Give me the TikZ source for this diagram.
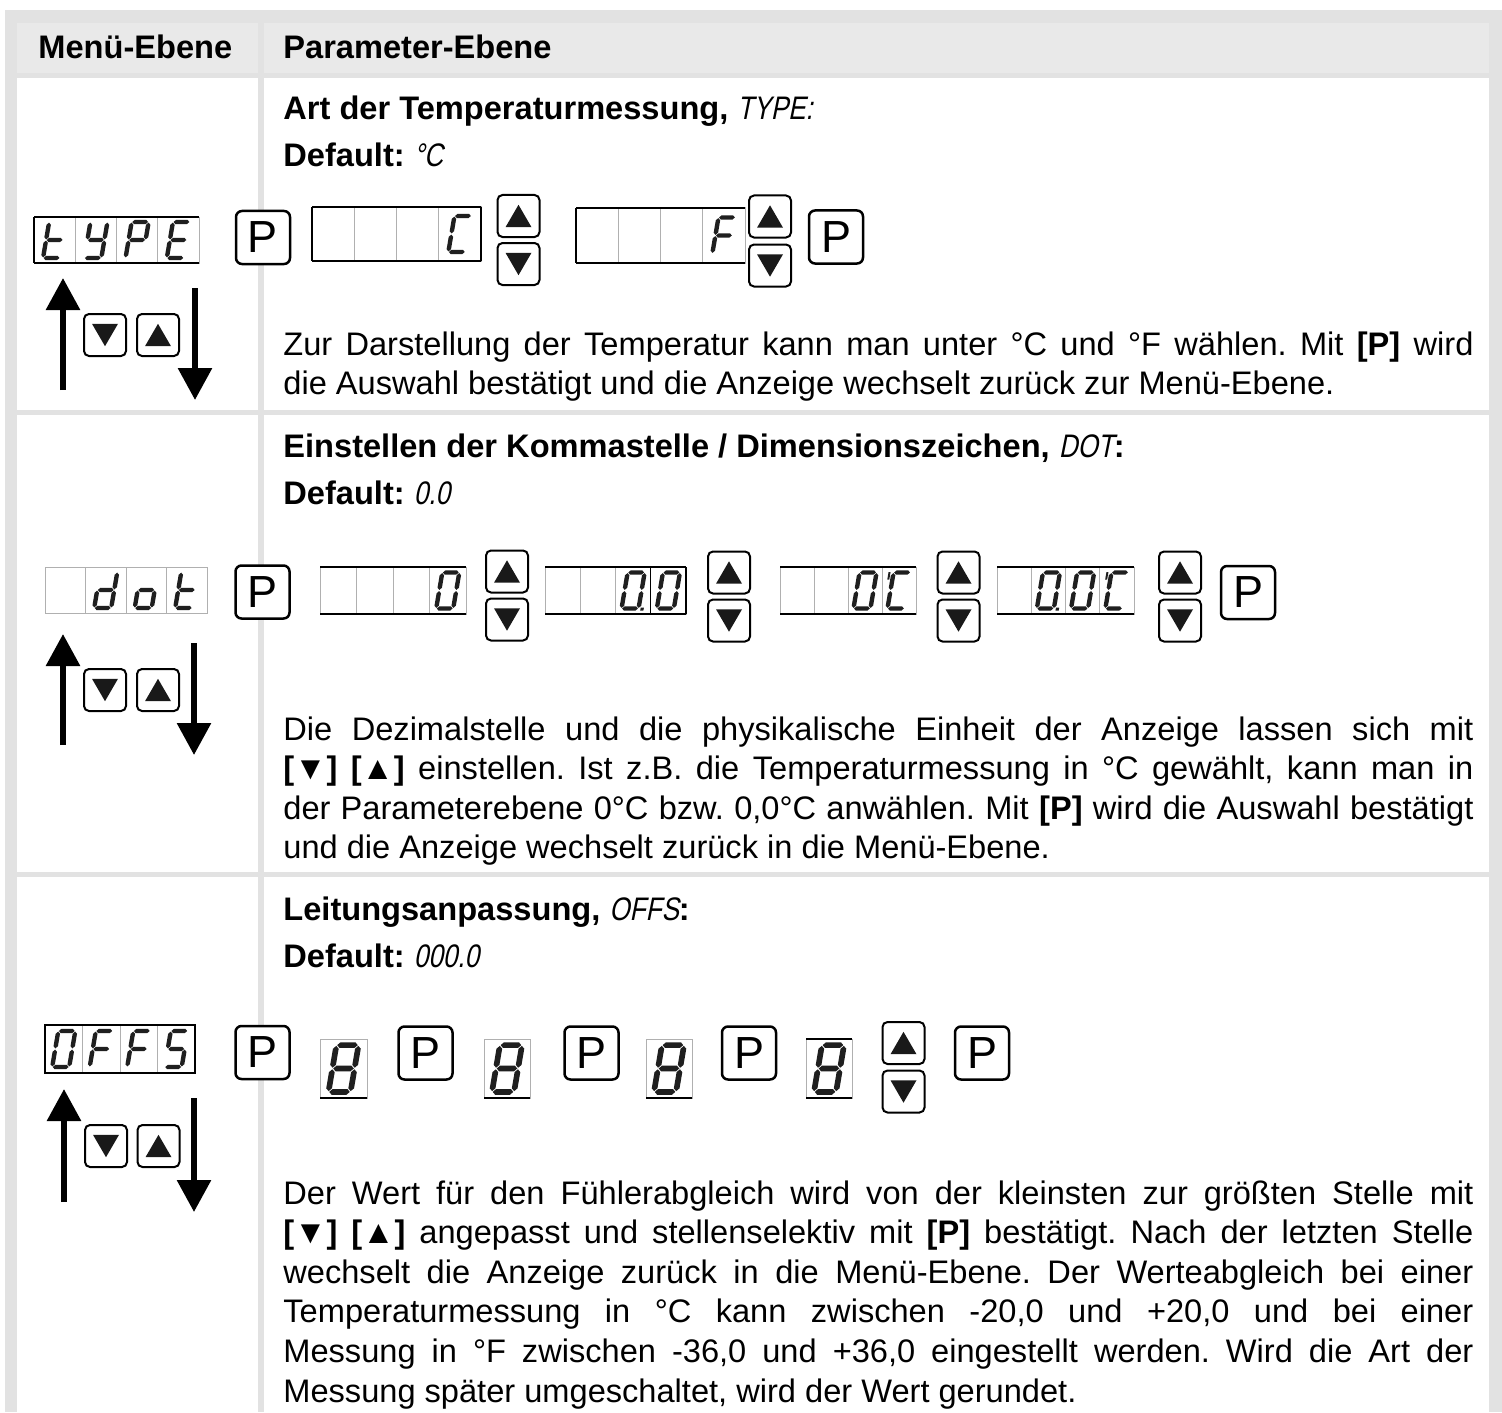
\documentclass[tikz,border=0pt]{standalone}
\usepackage{fontspec}
\setmainfont{Liberation Sans}
\newfontfamily\segfont[FakeSlant=0.2,FakeStretch=0.8]{Liberation Sans}
\usetikzlibrary{calc}
\usetikzlibrary{arrows.meta}
\definecolor{tabrule}{HTML}{E2E2E2}
\definecolor{tabhead}{HTML}{E9E9E9}
\definecolor{ledgray}{HTML}{B0B0B0}
\tikzset{
  pbtn/.style= {draw, fill=white, rounded corners=3pt, line width=1.25pt, minimum width=27pt, minimum height=26.5pt, inner sep=0, font=\fontsize{22.5}{22.5}\selectfont},
  abtn/.style= {draw, fill=white, rounded corners=2.5pt, line width=1pt, minimum size=21pt, inner sep=0},
  upbtn/.style= {abtn, path picture={\fill[black!90, sharp corners] ([yshift=5.6pt]path picture bounding box.center) -- ++(6.5pt,-11.2pt) -- ++(-13pt,0pt) -- cycle;}},
  dnbtn/.style= {abtn, path picture={\fill[black!90, sharp corners] ([yshift=-5.6pt]path picture bounding box.center) -- ++(6.5pt,11.2pt) -- ++(-13pt,0pt) -- cycle;}},
  ledseg/.style= {fill=black!88},
  ledline/.style= {ledgray, line width=.5pt},
  ledrim/.style= {black, line width=.7pt},
  menuarrow/.style= {line width=3pt, -{Triangle[width=16.5pt,length=16pt]}},
  head/.style= {anchor=base west, inner sep=0, font=\fontsize{16.3}{19.8}\selectfont\bfseries},
  para/.style= {anchor=base west, inner sep=0, text width=595pt, align=justify, font=\fontsize{16.3}{19.8}\selectfont},
}
% seven segment parts, local units with y up
\newcommand\hseg[3]{\fill[ledseg] ({#1+0.6},#3) -- ++(2.2,2.2) -- ({#2-2.8},{#3+2.2}) -- ({#2-0.6},#3) -- ({#2-2.8},{#3-2.2}) -- ({#1+2.8},{#3-2.2}) -- cycle;}
\newcommand\vseg[3]{\fill[ledseg] (#1,{#2+0.6}) -- ({#1+2.2},{#2+2.8}) -- ({#1+2.2},{#3-2.8}) -- (#1,{#3-0.6}) -- ({#1-2.2},{#3-2.8}) -- ({#1-2.2},{#2+2.8}) -- cycle;}
\newcommand\leda{\hseg{-8.5}{8.5}{18}}
\newcommand\ledb{\vseg{8.5}{0}{18}}
\newcommand\ledc{\vseg{8.5}{-18}{0}}
\newcommand\ledd{\hseg{-8.5}{8.5}{-18}}
\newcommand\lede{\vseg{-8.5}{-18}{0}}
\newcommand\ledf{\vseg{-8.5}{0}{18}}
\newcommand\ledg{\hseg{-8.5}{8.5}{0}}
\newcommand\ledp{\fill[ledseg] (10.5,-20.2) rectangle (13.7,-17);}
\newcommand\ledq{\fill[ledseg] (-13.6,11) rectangle (-11.6,18.5);}
\newcommand\ledchar[4][0.5pt]{%
  \begin{scope}[shift={(#2,#3)}, x=#1, y=#1, xslant=0.17]
    \foreach \s in {#4} {\csname led\s\endcsname}
  \end{scope}}
\newcommand\ledbox[5][ledrim]{%
  \draw[ledline] (#2,#3) rectangle (#4,#5);
  \foreach \k in {1,2,3} \draw[ledline] ({#2+\k*(#4-#2)/4},#3) -- ({#2+\k*(#4-#2)/4},#5);
  \draw[#1] (#2,#3) -- (#4,#3) (#2,#5) -- (#4,#5);}
\setlength\parindent{0pt}
\tolerance=9999
\hyphenpenalty=10000
\exhyphenpenalty=10000
\frenchspacing

\begin{document}
\begin{tikzpicture}[x=0.5pt, y=-0.5pt]
  \useasboundingbox (0,0) rectangle (1502,1412);

  % table
  \fill[tabrule] (5,10) rectangle (1502,1412);
  \fill[tabhead] (17,23) rectangle (258,73);
  \fill[tabhead] (264,23) rectangle (1489,73);
  \fill[white] (17,78) rectangle (258,410);
  \fill[white] (264,78) rectangle (1489,410);
  \fill[white] (17,415) rectangle (258,872);
  \fill[white] (264,415) rectangle (1489,872);
  \fill[white] (17,877) rectangle (258,1412);
  \fill[white] (264,877) rectangle (1489,1412);

  \node [head] (hmenu) at (38,59) {Menü-Ebene};
  \node [head] (hpar) at (283,59) {Parameter-Ebene};

  % TYPE
  \node [head] (type) at (283,120) {Art der Temperaturmessung, {\segfont\mdseries TYPE:}};
  \node [head] (typedef) at (283,167) {Default: {\segfont\mdseries °C}};

  \ledbox{34}{217}{199}{263}
  \draw[ledrim] (34,217) -- (34,263);
  \ledchar{54.6}{240}{d,e,f,g}
  \ledchar{95.9}{240}{b,c,d,f,g}
  \ledchar{137.1}{240}{a,b,e,f,g}
  \ledchar{178.4}{240}{a,d,e,f,g}

  \ledbox{312}{207}{481}{261}
  \draw[ledrim] (312,207) -- (312,261) (481,207) -- (481,261);
  \ledchar{459.9}{234}{a,d,e,f}
  \ledbox{576}{208}{745}{263}
  \draw[ledrim] (576,208) -- (576,263);
  \ledchar{723.9}{235.5}{a,e,f,g}

  \node [pbtn] (p11) at (263,237.5) {P};
  \node [upbtn] (u11) at (518.5,216) {};
  \node [dnbtn] (d11) at (518.5,264) {};
  \node [upbtn] (u12) at (770,216.5) {};
  \node [dnbtn] (d12) at (770,265.5) {};
  \node [pbtn] (p12) at (836,237) {P};

  \coordinate (up1a) at (63,390);
  \coordinate (up1b) at (63,278);
  \coordinate (dn1a) at (195,288);
  \coordinate (dn1b) at (195,400);
  \draw [menuarrow] (up1a) -- (up1b);
  \draw [menuarrow] (dn1a) -- (dn1b);
  \node [dnbtn] (md1) at (105,335) {};
  \node [upbtn] (mu1) at (158,335) {};

  \node [para] (txt1) at (283,355) {Zur Darstellung der Temperatur kann man unter °C und °F wählen. Mit \textbf{[P]} wird\linebreak die Auswahl bestätigt und die Anzeige wechselt zurück zur Menü-Ebene.};

  % DOT
  \node [head] (dot) at (283,457) {Einstellen der Kommastelle / Dimensionszeichen, {\segfont\mdseries DOT}:};
  \node [head] (dotdef) at (283,504) {Default: {\segfont\mdseries 0.0}};

  \ledbox[ledline]{45}{567}{207}{613}
  \ledchar{105.75}{590}{b,c,d,e,g}
  \ledchar{146.25}{590}{c,d,e,g}
  \ledchar{186.75}{590}{d,e,f,g}

  \ledbox{320}{567}{466}{614}
  \ledchar{447.75}{590.5}{a,b,c,d,e,f}
  \ledbox{545}{567}{686}{614}
  \draw[ledrim] (650.25,567) -- (650.25,614) (686,567) -- (686,614);
  \ledchar{633.1}{590.5}{a,b,c,d,e,f,p}
  \ledchar{668.4}{590.5}{a,b,c,d,e,f}
  \ledbox{780}{567}{916}{614}
  \ledchar{865}{590.5}{a,b,c,d,e,f}
  \ledchar{899}{590.5}{a,d,e,f,q}
  \ledbox{997}{567}{1134}{614}
  \ledchar{1048.4}{590.5}{a,b,c,d,e,f,p}
  \ledchar{1082.6}{590.5}{a,b,c,d,e,f}
  \ledchar{1116.9}{590.5}{a,d,e,f,q}

  \node [pbtn] (p21) at (262.5,592) {P};
  \node [upbtn] (u21) at (507,571.5) {};
  \node [dnbtn] (d21) at (507,619.5) {};
  \node [upbtn] (u22) at (729,572.5) {};
  \node [dnbtn] (d22) at (729,620.5) {};
  \node [upbtn] (u23) at (958.5,572.5) {};
  \node [dnbtn] (d23) at (958.5,620.5) {};
  \node [upbtn] (u24) at (1180,572.5) {};
  \node [dnbtn] (d24) at (1180,620.5) {};
  \node [pbtn] (p22) at (1248,592.5) {P};

  \coordinate (up2a) at (63,745);
  \coordinate (up2b) at (63,634);
  \coordinate (dn2a) at (194,643);
  \coordinate (dn2b) at (194,755);
  \draw [menuarrow] (up2a) -- (up2b);
  \draw [menuarrow] (dn2a) -- (dn2b);
  \node [dnbtn] (md2) at (105,690) {};
  \node [upbtn] (mu2) at (158,690) {};

  \node [para] (txt2) at (283,740) {Die Dezimalstelle und die physikalische Einheit der Anzeige lassen sich mit\linebreak \textbf{[▼] [▲]} einstellen. Ist z.B. die Temperaturmessung in °C gewählt, kann man in\linebreak der Parameterebene 0°C bzw. 0,0°C anwählen. Mit \textbf{[P]} wird die Auswahl bestätigt\linebreak und die Anzeige wechselt zurück in die Menü-Ebene.};

  % OFFS
  \node [head] (offs) at (283,920) {Leitungsanpassung, {\segfont\mdseries OFFS}:};
  \node [head] (offsdef) at (283,967) {Default: {\segfont\mdseries 000.0}};

  \ledbox{45}{1025}{195}{1073}
  \draw[ledrim] (45,1025) rectangle (195,1073);
  \ledchar{63.75}{1049}{a,b,c,d,e,f}
  \ledchar{101.25}{1049}{a,e,f,g}
  \ledchar{138.75}{1049}{a,e,f,g}
  \ledchar{176.25}{1049}{a,c,d,f,g}

  \draw[ledline] (320,1039) rectangle (367,1098);
  \draw[ledrim] (320,1098) -- (367,1098);
  \ledchar[0.65pt]{343.5}{1068.5}{a,b,c,d,e,f,g}
  \draw[ledline] (484,1039) rectangle (530,1098);
  \draw[ledrim] (484,1098) -- (530,1098);
  \ledchar[0.65pt]{507}{1068.5}{a,b,c,d,e,f,g}
  \draw[ledline] (646,1039) rectangle (692,1098);
  \draw[ledrim] (646,1098) -- (692,1098);
  \ledchar[0.65pt]{669}{1068.5}{a,b,c,d,e,f,g}
  \draw[ledline] (806,1039) rectangle (852,1098);
  \draw[ledrim] (806,1039) -- (852,1039) (806,1098) -- (852,1098);
  \ledchar[0.65pt]{829}{1068.5}{a,b,c,d,e,f,g}

  \node [pbtn] (p31) at (262.5,1052.5) {P};
  \node [pbtn] (p32) at (425.5,1053) {P};
  \node [pbtn] (p33) at (591.5,1053) {P};
  \node [pbtn] (p34) at (749,1053) {P};
  \node [upbtn] (u31) at (903.5,1043) {};
  \node [dnbtn] (d31) at (903.5,1091.5) {};
  \node [pbtn] (p35) at (982,1053) {P};

  \coordinate (up3a) at (64,1202);
  \coordinate (up3b) at (64,1089);
  \coordinate (dn3a) at (194,1098);
  \coordinate (dn3b) at (194,1212);
  \draw [menuarrow] (up3a) -- (up3b);
  \draw [menuarrow] (dn3a) -- (dn3b);
  \node [dnbtn] (md3) at (106,1146) {};
  \node [upbtn] (mu3) at (158.5,1146) {};

  \node [para] (txt3) at (283,1204) {Der Wert für den Fühlerabgleich wird von der kleinsten zur größten Stelle mit\linebreak \textbf{[▼] [▲]} angepasst und stellenselektiv mit \textbf{[P]} bestätigt. Nach der letzten Stelle\linebreak wechselt die Anzeige zurück in die Menü-Ebene. Der Werteabgleich bei einer\linebreak Temperaturmessung in °C kann zwischen -20,0 und +20,0 und bei einer\linebreak Messung in °F zwischen -36,0 und +36,0 eingestellt werden. Wird die Art der\linebreak Messung später umgeschaltet, wird der Wert gerundet.};
\end{tikzpicture}
\end{document}
